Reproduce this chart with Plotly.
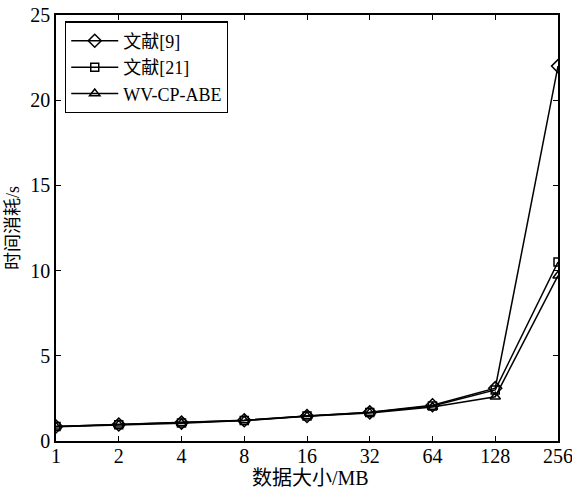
import plotly.graph_objects as go

categories = ["1", "2", "4", "8", "16", "32", "64", "128", "256"]
ref9 = [0.85, 0.97, 1.08, 1.22, 1.47, 1.68, 2.1, 3.1, 22.0]
ref21 = [0.85, 0.96, 1.06, 1.21, 1.46, 1.67, 2.05, 3.0, 10.5]
wvcpabe = [0.84, 0.95, 1.04, 1.2, 1.45, 1.65, 2.0, 2.6, 9.7]

FONT = "Liberation Serif, Times New Roman, Noto Sans CJK SC"

fig = go.Figure()
series = [
    ("文献[9]", ref9, "diamond-open", 10),
    ("文献[21]", ref21, "square-open", 8),
    ("WV-CP-ABE", wvcpabe, "triangle-up-open", 9),
]
xs = list(range(len(categories)))
for name, vals, sym, size in series:
    fig.add_trace(go.Scatter(
        x=xs, y=vals, name=name, mode="lines+markers",
        line=dict(color="black", width=1.5),
        marker=dict(symbol=sym, size=size, color="black", line=dict(width=1.5, color="black")),
    ))

fig.update_layout(
    width=572, height=489,
    margin=dict(l=56, r=14, t=15, b=48, autoexpand=False),
    paper_bgcolor="white", plot_bgcolor="white",
    font=dict(family=FONT, size=20, color="black"),
    showlegend=True,
    legend=dict(x=0.018, y=0.985, xanchor="left", yanchor="top",
                bordercolor="black", borderwidth=1.2, bgcolor="white",
                font=dict(family=FONT, size=18), tracegroupgap=0,
                itemwidth=47),
    annotations=[
        dict(text="数据大小/MB", x=0.5, y=0, xref="paper", yref="paper",
             xanchor="center", yanchor="top", yshift=-24, xshift=3, showarrow=False,
             font=dict(family=FONT, size=20)),
        dict(text="时间消耗/s", x=0, y=0.5, xref="paper", yref="paper",
             xanchor="right", yanchor="middle", xshift=-31, textangle=-90,
             showarrow=False, font=dict(family=FONT, size=18)),
    ],
)
fig.update_xaxes(
    range=[0, 8], tickmode="array", tickvals=xs, ticktext=categories,
    ticks="inside", ticklen=5, tickwidth=1, tickcolor="black",
    showline=True, linecolor="black", linewidth=1.5, mirror="ticks",
    showgrid=False, zeroline=False, automargin=False,
    ticklabeloverflow="allow", ticklabelstandoff=-4,
    tickfont=dict(family=FONT, size=20),
)
fig.update_yaxes(
    range=[0, 25], tickvals=[0, 5, 10, 15, 20, 25],
    ticks="inside", ticklen=5, tickwidth=1, tickcolor="black",
    showline=True, linecolor="black", linewidth=1.5, mirror="ticks",
    showgrid=False, zeroline=False, automargin=False,
    ticklabeloverflow="allow",
    tickfont=dict(family=FONT, size=20),
)

fig.write_html("out.html", config={"displayModeBar": False},
               post_script="document.body.style.margin='0';document.body.style.padding='0';")
